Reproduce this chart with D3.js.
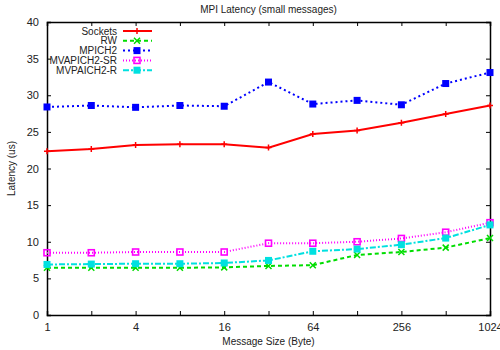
<!DOCTYPE html>
<html>
<head>
<meta charset="utf-8">
<script src="https://cdn.jsdelivr.net/npm/d3@7"></script>
<style>
  body { margin: 0; background: #fff; }
  svg { font-family: "Liberation Sans", Arial, sans-serif; }
  .tick text { font-size: 11px; fill: #222; }
</style>
</head>
<body>
<div id="chart"></div>
<script>
// message sizes (bytes)
var sizes = [1, 2, 4, 8, 16, 32, 64, 128, 256, 512, 1024];
var tickLabels = [1, 4, 16, 64, 256, 1024];

var sockets = [22.35, 22.65, 23.2, 23.3, 23.3, 22.85, 24.7, 25.2, 26.25, 27.45, 28.6];
var rw      = [6.45, 6.45, 6.45, 6.45, 6.5, 6.7, 6.8, 8.2, 8.6, 9.2, 10.5];
var mpich2  = [28.4, 28.6, 28.35, 28.6, 28.5, 31.8, 28.8, 29.3, 28.7, 31.6, 33.1];
var mvSR    = [8.5, 8.5, 8.6, 8.6, 8.6, 9.8, 9.8, 10.0, 10.45, 11.3, 12.6];
var mvR     = [6.9, 6.95, 7.0, 7.0, 7.1, 7.45, 8.7, 9.0, 9.6, 10.5, 12.3];

var seriesNames = ["Sockets", "RW", "MPICH2", "MVAPICH2-SR", "MVPAICH2-R"];

var margin = {top: 22, right: 10, bottom: 35, left: 47},
    width = 500 - margin.left - margin.right,
    height = 350 - margin.top - margin.bottom;

var series = [
  {name: seriesNames[0], values: sockets, color: "#ff0000", dash: null, marker: "plus"},
  {name: seriesNames[1], values: rw, color: "#00dd00", dash: "4,3", marker: "cross"},
  {name: seriesNames[2], values: mpich2, color: "#0000ff", dash: "2,3", marker: "square"},
  {name: seriesNames[3], values: mvSR, color: "#ff00ff", dash: "1,2", marker: "openSquare"},
  {name: seriesNames[4], values: mvR, color: "#00e0e0", dash: "6,2,2,2", marker: "square"}
];

var x = d3.scaleLog().base(2)
    .domain([1, 1024])
    .range([0, width]);

var y = d3.scaleLinear()
    .domain([0, 40])
    .range([height, 0]);

var svg = d3.select("#chart").append("svg")
    .attr("width", 500)
    .attr("height", 350)
    .append("g")
    .attr("transform", "translate(" + margin.left + "," + margin.top + ")");

// axes (ticks point inward, gnuplot style)
var xAxis = d3.axisBottom(x)
    .tickValues(sizes)
    .tickSize(-4)
    .tickPadding(8)
    .tickFormat(function(d) { return tickLabels.indexOf(d) >= 0 ? d : ""; });

var yAxis = d3.axisLeft(y)
    .tickValues(d3.range(0, 41, 5))
    .tickSize(-4)
    .tickPadding(8);

svg.append("g")
    .attr("transform", "translate(0," + height + ")")
    .call(xAxis);

svg.append("g")
    .call(yAxis);

// mirrored ticks on top and right
svg.append("g")
    .call(d3.axisTop(x).tickValues(sizes).tickSize(-4).tickFormat(""));

svg.append("g")
    .attr("transform", "translate(" + width + ",0)")
    .call(d3.axisRight(y).tickValues(d3.range(0, 41, 5)).tickSize(-4).tickFormat(""));

svg.selectAll(".domain").attr("stroke", "#000").attr("stroke-width", 1.5);
svg.selectAll(".tick line").attr("stroke", "#000");

var line = d3.line()
    .x(function(d) { return x(d.size); })
    .y(function(d) { return y(d.value); });

function drawMarker(g, type, color) {
  if (type === "plus") {
    g.append("path").attr("d", "M-3,0H3M0,-3V3")
      .attr("stroke", color).attr("stroke-width", 1.5);
  } else if (type === "cross") {
    g.append("path").attr("d", "M-3,-3L3,3M-3,3L3,-3")
      .attr("stroke", color).attr("stroke-width", 1.5);
  } else if (type === "square") {
    g.append("rect").attr("x", -3.5).attr("y", -3.5).attr("width", 7).attr("height", 7)
      .attr("fill", color);
  } else {
    g.append("rect").attr("x", -3).attr("y", -3).attr("width", 6).attr("height", 6)
      .attr("fill", "none").attr("stroke", color).attr("stroke-width", 1.6);
  }
}

series.forEach(function(s) {
  var data = sizes.map(function(sz, i) { return {size: sz, value: s.values[i]}; });

  svg.append("path")
    .datum(data)
    .attr("fill", "none")
    .attr("stroke", s.color)
    .attr("stroke-width", 2)
    .attr("stroke-dasharray", s.dash)
    .attr("d", line);

  data.forEach(function(d) {
    var g = svg.append("g")
      .attr("transform", "translate(" + x(d.size) + "," + y(d.value) + ")");
    drawMarker(g, s.marker, s.color);
  });
});

// legend
var legend = svg.append("g").attr("transform", "translate(70,9)");
series.forEach(function(s, i) {
  var row = legend.append("g").attr("transform", "translate(0," + (i * 9.8) + ")");
  row.append("text")
    .attr("x", 0).attr("y", 3.5)
    .attr("text-anchor", "end")
    .style("font-size", "10px")
    .attr("fill", "#222")
    .text(s.name);
  row.append("line")
    .attr("x1", 6).attr("x2", 35)
    .attr("stroke", s.color)
    .attr("stroke-width", 2)
    .attr("stroke-dasharray", s.dash);
  var m = row.append("g").attr("transform", "translate(20,0)");
  drawMarker(m, s.marker, s.color);
});

// title and axis labels
svg.append("text")
    .attr("x", width / 2).attr("y", -9)
    .attr("text-anchor", "middle")
    .style("font-size", "10px")
    .attr("fill", "#222")
    .text("MPI Latency (small messages)");

svg.append("text")
    .attr("x", width / 2).attr("y", height + 30)
    .attr("text-anchor", "middle")
    .style("font-size", "10px")
    .attr("fill", "#222")
    .text("Message Size (Byte)");

svg.append("text")
    .attr("transform", "rotate(-90)")
    .attr("x", -height / 2).attr("y", -32)
    .attr("text-anchor", "middle")
    .style("font-size", "10px")
    .attr("fill", "#222")
    .text("Latency (us)");
</script>
</body>
</html>
